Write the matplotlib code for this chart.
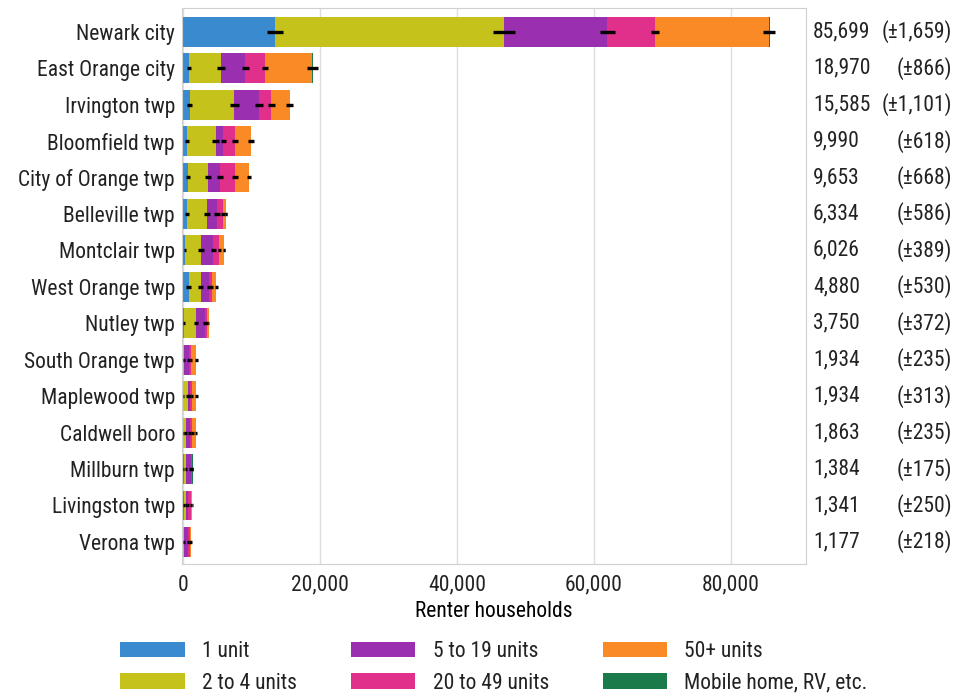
import matplotlib
matplotlib.use("Agg")
import numpy as np
import matplotlib.pyplot as plt
from matplotlib import font_manager, transforms
from matplotlib.ticker import FuncFormatter

# renter households by units in structure, Essex County places
places = ["Newark city", "East Orange city", "Irvington twp", "Bloomfield twp",
          "City of Orange twp", "Belleville twp", "Montclair twp", "West Orange twp",
          "Nutley twp", "South Orange twp", "Maplewood twp", "Caldwell boro",
          "Millburn twp", "Livingston twp", "Verona twp"]

one_unit = [13400, 900, 1000, 600, 750, 600, 300, 800, 150, 50, 50, 30, 100, 150, 50]
two_to_four = [33500, 4700, 6500, 4150, 2950, 2950, 2300, 1800, 1750, 150, 650, 350, 300, 250, 150]
five_to_19 = [15100, 3500, 3600, 1150, 1700, 1400, 1800, 1250, 1300, 600, 300, 600, 700, 350, 500]
twenty_to_49 = [6900, 2900, 1800, 1700, 2200, 950, 900, 350, 300, 400, 350, 400, 200, 450, 350]
fifty_plus = [16700, 6900, 2650, 2350, 2030, 400, 700, 650, 230, 720, 570, 470, 74, 130, 117]
mobile = [99, 70, 35, 40, 23, 34, 26, 30, 20, 14, 14, 13, 10, 11, 10]

moe_one = [1170, 300, 350, 250, 300, 250, 150, 300, 100, 60, 60, 40, 80, 90, 50]
moe_two = [1600, 580, 700, 500, 450, 450, 400, 350, 300, 120, 250, 200, 150, 130, 100]
moe_five = [1150, 500, 600, 400, 500, 400, 350, 300, 250, 200, 150, 250, 200, 150, 150]
moe_twenty = [580, 450, 500, 450, 450, 300, 250, 200, 150, 150, 150, 200, 100, 180, 150]
moe_fifty = [870, 800, 450, 400, 350, 150, 200, 200, 100, 200, 200, 150, 60, 80, 80]
moe_mobile = [80, 60, 40, 40, 30, 40, 30, 30, 25, 20, 20, 20, 15, 15, 15]

total_moe = [1659, 866, 1101, 618, 668, 586, 389, 530, 372, 235, 313, 235, 175, 250, 218]

labels = ["1 unit", "2 to 4 units", "5 to 19 units", "20 to 49 units",
          "50+ units", "Mobile home, RV, etc."]
colors = ["#3a8ad0", "#c6c21c", "#9a2fb0", "#e0308c", "#f98a26", "#1b7a4a"]

names = {f.name for f in font_manager.fontManager.ttflist}
fam = "Roboto"
for cand in ["Roboto Condensed", "Liberation Sans Narrow", "Roboto"]:
    if cand in names:
        fam = cand
        break
plt.rcParams["font.family"] = [fam, "DejaVu Sans"]
fs = 15.5 if fam != "Roboto" else 13
plt.rcParams["font.size"] = fs
plt.rcParams["text.color"] = "#222222"

fig = plt.figure(figsize=(9.55, 6.96), dpi=100)
ax = fig.add_axes([0.1906, 0.190, 0.6534, 0.7985])

series = [one_unit, two_to_four, five_to_19, twenty_to_49, fifty_plus, mobile]
moes = [moe_one, moe_two, moe_five, moe_twenty, moe_fifty, moe_mobile]
y = np.arange(len(places))
left = np.zeros(len(places))
ends = []
for vals, col, lab in zip(series, colors, labels):
    vals = np.array(vals, dtype=float)
    ax.barh(y, vals, left=left, height=0.82, color=col, label=lab, zorder=2)
    left = left + vals
    ends.append(left.copy())

for e, m in zip(ends, moes):
    ax.errorbar(e, y, xerr=m, fmt="none", ecolor="black", elinewidth=2.4,
                capsize=0, zorder=3)

ax.set_ylim(len(places) - 0.4, -0.65)
ax.set_xlim(-150, 91000)
ax.set_yticks(y)
ax.set_yticklabels(places)
ax.set_xticks([0, 20000, 40000, 60000, 80000])
ax.xaxis.set_major_formatter(FuncFormatter(lambda v, p: f"{v:,.0f}"))
ax.tick_params(length=0, colors="#222222")
ax.tick_params(axis="y", pad=5)
ax.tick_params(axis="x", pad=8)
ax.xaxis.grid(True, color="#dddddd", lw=1)
ax.set_axisbelow(True)
for s in ax.spines.values():
    s.set_color("#d0d0d0")
ax.set_xlabel("Renter households", labelpad=4)

# totals on the right
trans = transforms.blended_transform_factory(fig.transFigure, ax.transData)
for i, (tot, m) in enumerate(zip(left, total_moe)):
    ax.text(813 / 955, i, f"{int(round(tot)):,}", transform=trans,
            ha="left", va="center", clip_on=False)
    ax.text(952 / 955, i, f"(±{m:,})", transform=trans,
            ha="right", va="center", clip_on=False)

fig.legend(loc="upper center", bbox_to_anchor=(494 / 955, 1 - 630 / 696), ncol=3,
           frameon=False, handlelength=3.0, handleheight=0.7, handletextpad=0.8,
           columnspacing=2.5, labelspacing=0.5, borderpad=0)

fig.savefig("out.png", dpi=100)
